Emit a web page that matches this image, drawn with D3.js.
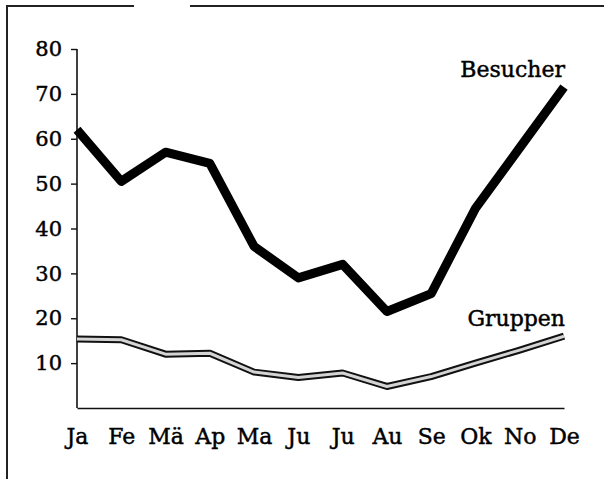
<!DOCTYPE html>
<html>
<head>
<meta charset="utf-8">
<script src="https://cdn.jsdelivr.net/npm/d3@7"></script>
<style>
    body { margin: 0; background: #fff; }
    svg { display: block; }
    text { stroke: #000; stroke-width: 0.45px; }
</style>
</head>
<body>
<svg width="604" height="479"></svg>
<script>
// data
var months = ['Ja', 'Fe', 'Mä', 'Ap', 'Ma', 'Ju', 'Ju ', 'Au', 'Se', 'Ok', 'No', 'De'];
var monthLabels = ['Ja', 'Fe', 'Mä', 'Ap', 'Ma', 'Ju', 'Ju', 'Au', 'Se', 'Ok', 'No', 'De'];
var besucher = [62, 50.5, 57, 54.5, 36, 29, 32, 21.5, 25.5, 44.5, 58, 71.5];
var gruppen = [15.4, 15.2, 12, 12.2, 8, 6.8, 7.8, 4.8, 7, 10, 12.9, 16];
var yTicks = [10, 20, 30, 40, 50, 60, 70, 80];

var svg = d3.select('svg');
var fontFam = '"DejaVu Serif", serif';

// outer frame (left and top edges only)
svg.append('path')
    .attr('d', 'M7,479 V6 H134 M190,6 H604')
    .attr('fill', 'none')
    .attr('stroke', '#222')
    .attr('stroke-width', 2);

var x = d3.scalePoint()
    .domain(months)
    .range([77, 564]);

var y = d3.scaleLinear()
    .domain([0, 80])
    .range([408, 49]);

// y axis
var yAxis = svg.append('g')
    .attr('transform', 'translate(77,0)')
    .call(d3.axisLeft(y).tickValues(yTicks).tickSize(6).tickSizeOuter(0).tickPadding(9));
yAxis.select('.domain').attr('stroke', '#111').attr('stroke-width', 1.6)
    .attr('d', 'M0,' + y(80) + 'V' + y(0));
yAxis.selectAll('.tick line').attr('stroke', '#111').attr('stroke-width', 1.4);
yAxis.selectAll('.tick text').attr('font-size', 21).attr('font-family', fontFam).attr('fill', '#000');

// x axis
var xAxis = svg.append('g')
    .attr('transform', 'translate(0,408)')
    .call(d3.axisBottom(x).tickSize(0).tickPadding(20)
        .tickFormat(function (d, i) { return monthLabels[i]; }));
xAxis.select('.domain').attr('stroke', '#111').attr('stroke-width', 1.6);
xAxis.selectAll('.tick text')
    .attr('font-size', 22)
    .attr('font-family', fontFam)
    .attr('fill', '#000')
    .attr('dy', '0.71em');

var line = d3.line()
    .x(function (d, i) { return x(months[i]); })
    .y(function (d) { return y(d); });

// Gruppen: hollow double line
svg.append('path')
    .datum(gruppen)
    .attr('d', line)
    .attr('fill', 'none')
    .attr('stroke', '#111')
    .attr('stroke-width', 7)
    .attr('stroke-linejoin', 'round');
svg.append('path')
    .datum(gruppen)
    .attr('d', line)
    .attr('fill', 'none')
    .attr('stroke', '#d4d4d4')
    .attr('stroke-width', 3)
    .attr('stroke-linejoin', 'round');

// Besucher: heavy black line
svg.append('path')
    .datum(besucher)
    .attr('d', line)
    .attr('fill', 'none')
    .attr('stroke', '#000')
    .attr('stroke-width', 9)
    .attr('stroke-linejoin', 'round');

// series labels
svg.append('text')
    .attr('x', 565)
    .attr('y', 77)
    .attr('text-anchor', 'end')
    .attr('font-family', fontFam)
    .attr('font-size', 22)
    .text('Besucher');

svg.append('text')
    .attr('x', 565)
    .attr('y', 326)
    .attr('text-anchor', 'end')
    .attr('font-family', fontFam)
    .attr('font-size', 22)
    .text('Gruppen');
</script>
</body>
</html>
